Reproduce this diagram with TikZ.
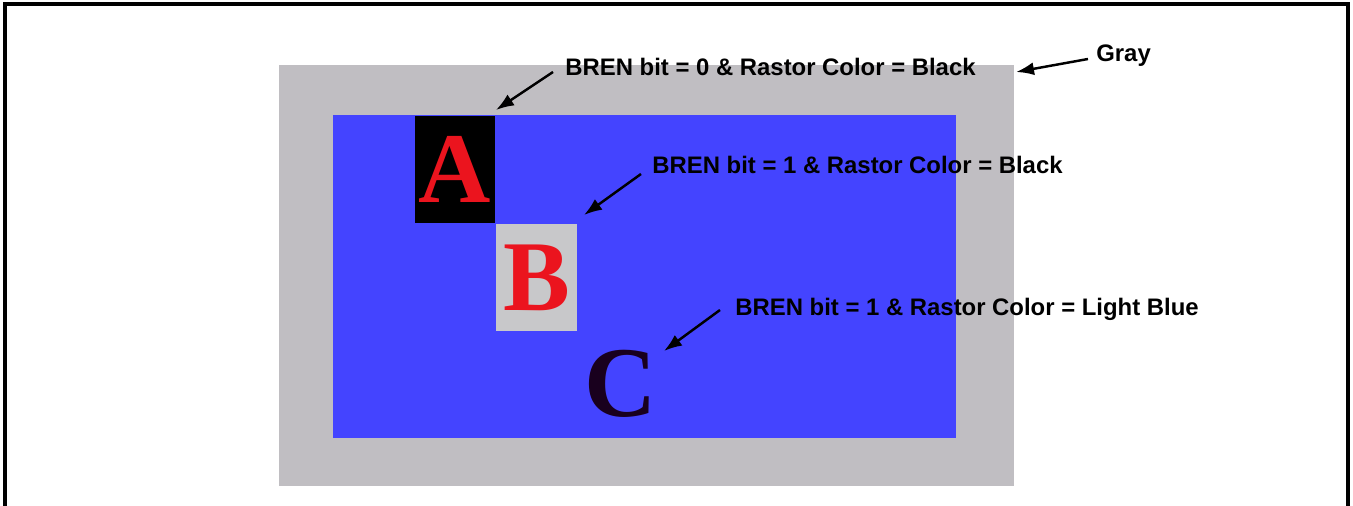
\documentclass[tikz,border=0pt]{standalone}
\usepackage{fontspec}
\setmainfont{Liberation Sans}
\newfontfamily\letterfont{Liberation Serif}
\usetikzlibrary{arrows.meta}

\definecolor{screengray}{RGB}{192,190,194}
\definecolor{screenblue}{RGB}{68,68,255}
\definecolor{boxgray}{RGB}{200,200,202}
\definecolor{letterred}{RGB}{235,20,30}
\definecolor{letterdark}{RGB}{25,0,30}

\begin{document}
\begin{tikzpicture}[x=0.02cm,y=-0.02cm]
    \tikzstyle{every node}=[inner sep=0pt,font=\bfseries\fontsize{13.6}{15}\selectfont];
    \tikzstyle{letterbox}=[minimum width=1.62cm,minimum height=2.14cm,font=\letterfont\bfseries\fontsize{57}{57}\selectfont];
    \tikzstyle{pointer}=[-{Latex[length=3.6mm,width=2.6mm]},line width=1.4pt];
    \useasboundingbox (0,0) rectangle (1353,506);

    % frame, open at the bottom
    \draw[line width=1.8pt] (5,506) -- (5,4) -- (1348,4) -- (1348,506);

    % screen
    \fill[screengray] (279,65) rectangle (1014,486);
    \fill[screenblue] (333,115) rectangle (956,438);

    \node[letterbox,fill=black,text=letterred] at (455,169.5) (a) {A};
    \node[letterbox,fill=boxgray,text=letterred] at (536.5,277.5) (b) {B};
    \node[letterbox,text=letterdark] at (621,384) (c) {C};

    \node[anchor=west] at (565,67) (t0) {BREN bit = 0 \& Rastor Color = Black};
    \node[anchor=west] at (652,165) (t1) {BREN bit = 1 \& Rastor Color = Black};
    \node[anchor=west] at (735,309) (t2) {BREN bit = 1 \& Rastor Color = Light Blue};
    \node[anchor=west] at (1096,56) (tg) {Gray};

    \coordinate (s0) at (553,72);   \coordinate (e0) at (496,110);
    \coordinate (s1) at (641,174);  \coordinate (e1) at (584,215);
    \coordinate (s2) at (720,310);  \coordinate (e2) at (664,351);
    \coordinate (sg) at (1088,59);  \coordinate (eg) at (1016,72);

    \draw[pointer] (s0) to (e0);
    \draw[pointer] (s1) to (e1);
    \draw[pointer] (s2) to (e2);
    \draw[pointer] (sg) to (eg);
\end{tikzpicture}
\end{document}
